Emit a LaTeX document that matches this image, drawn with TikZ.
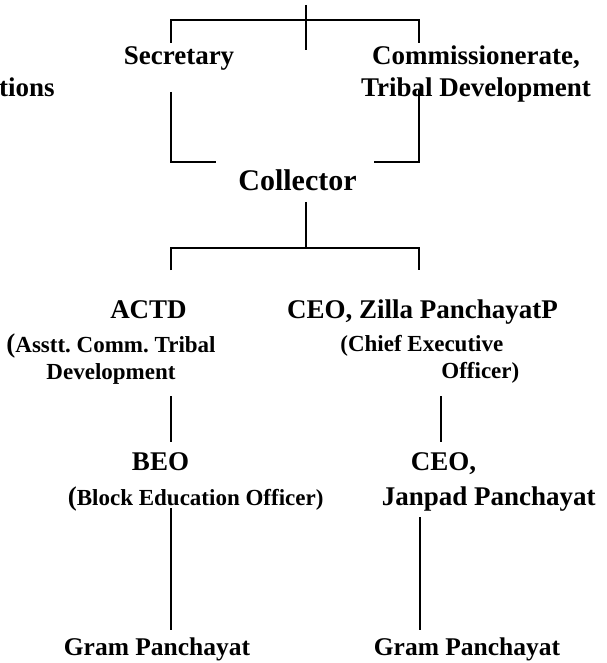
\documentclass[tikz,border=0pt]{standalone}
\usepackage{fontspec}
\setmainfont{Liberation Serif}
\frenchspacing
\begin{document}
\begin{tikzpicture}[
    x=0.5pt, y=-0.5pt,
    head/.style={font=\bfseries\fontsize{13.5}{16}\selectfont, inner sep=0pt, anchor=base},
    big/.style={font=\bfseries\fontsize{15}{18}\selectfont, inner sep=0pt, anchor=base},
    sub/.style={font=\bfseries\fontsize{11.5}{13.5}\selectfont, inner sep=0pt, anchor=base},
    gram/.style={font=\bfseries\fontsize{12.75}{15}\selectfont, inner sep=0pt, anchor=base},
    link/.style={line width=1pt},
]
\useasboundingbox (0,0) rectangle (606,663);

% top level
\node[head, anchor=base east] (tions) at (55,97) {tions};
\node[head] (secy) at (179,65) {Secretary};
\node[head, align=center] (comm) at (476,97) {Commissionerate,\\Tribal Development};
\node[big] (coll) at (297.5,191) {Collector};

% block level
\node[head] (actd) at (148.5,318) {ACTD};
\node[sub, align=center] (actdsub) at (111,379) {{\fontsize{13.5}{13.5}\selectfont(}Asstt. Comm. Tribal\\Development};
\node[head] (zp) at (422.5,318) {CEO, Zilla PanchayatP};
\node[sub, align=left, anchor=base west] (zpsub) at (340,378) {(Chief Executive\\\hspace*{50.5pt}Officer)};

\node[head] (beo) at (160.5,470) {BEO};
\node[sub, anchor=base west] (beosub) at (67.5,505) {{\fontsize{13.5}{13.5}\selectfont(}Block Education Officer)};
\node[head, align=left, anchor=base west, font=\bfseries\fontsize{13.5}{17.5}\selectfont] (jp) at (381.5,505) {\hspace*{14.5pt}CEO,\\Janpad Panchayat};

\node[gram] (gp1) at (157,655) {Gram Panchayat};
\node[gram] (gp2) at (467,655) {Gram Panchayat};

% junctions
\coordinate (t0) at (306,5);
\coordinate (t2) at (306,50);
\coordinate (tl) at (171,20);
\coordinate (tr) at (419,20);
\coordinate (tld) at (171,43);
\coordinate (trd) at (419,43);
\coordinate (bl0) at (171,92);
\coordinate (bl1) at (171,162);
\coordinate (bl2) at (216,162);
\coordinate (br0) at (419,90);
\coordinate (br1) at (419,162);
\coordinate (br2) at (374,162);
\coordinate (c0) at (306,202);
\coordinate (c1) at (306,248);
\coordinate (cl) at (171,248);
\coordinate (cr) at (419,248);
\coordinate (cld) at (171,270);
\coordinate (crd) at (419,270);
\coordinate (al0) at (171,396);
\coordinate (al1) at (171,442);
\coordinate (ar0) at (441,396);
\coordinate (ar1) at (441,442);
\coordinate (gl0) at (171,508);
\coordinate (gl1) at (171,630);
\coordinate (gr0) at (420,517);
\coordinate (gr1) at (420,630);

\draw[link] (t0) -- (t2);
\draw[link] (tld) -- (tl) -- (tr) -- (trd);
\draw[link] (bl0) -- (bl1) -- (bl2);
\draw[link] (br0) -- (br1) -- (br2);
\draw[link] (c0) -- (c1);
\draw[link] (cld) -- (cl) -- (cr) -- (crd);
\draw[link] (al0) -- (al1);
\draw[link] (ar0) -- (ar1);
\draw[link] (gl0) -- (gl1);
\draw[link] (gr0) -- (gr1);
\end{tikzpicture}
\end{document}
